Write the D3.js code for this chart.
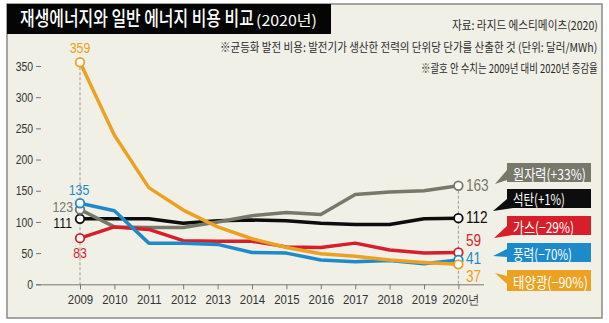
<!DOCTYPE html>
<html><head><meta charset="utf-8">
<script src="https://cdn.jsdelivr.net/npm/d3@7"></script>
<style>
body{margin:0;background:#fff;}
svg{display:block;}
.num{font-family:"Liberation Sans",Arial,sans-serif;}
.kr{font-family:"Noto Sans CJK KR","Noto Sans",sans-serif;}
</style></head>
<body>
<svg id="chart" width="609" height="323"></svg>
<script>
const years = [2009,2010,2011,2012,2013,2014,2015,2016,2017,2018,2019,2020];
const yTicks = [0,50,100,150,200,250,300,350];
const nuclear = [120, 92, 91, 91, 100, 110, 115, 112, 144, 148, 150, 158];
const coal    = [105, 105, 105, 98, 102, 103, 102, 98, 96, 96, 105, 106];
const gas     = [74, 92, 88, 70, 69, 69, 60, 59, 66, 55, 50, 51];
const wind    = [130, 118, 66, 66, 64, 51, 50, 39, 36, 38, 33, 39];
const solar   = [356, 239, 155, 119, 92, 73, 59, 49, 45, 39, 35, 32];
const seriesNames = ["원자력","석탄","가스","풍력","태양광"];
const seriesChanges = ["(+33%)","(+1%)","(−29%)","(−70%)","(−90%)"];
const startLabels = ["123","111","83","135","359"];
const endLabels = ["163","112","59","41","37"];
const colors = ["#77776a","#0d0d0d","#d61f2b","#1d8bcb","#eba121"];

const svg = d3.select("#chart");
const bg = "#f1f0e6";

// horizontally condense a text: either to a target width or by a factor
function squeeze(sel, target, factor){
  sel.each(function(){
    const t = d3.select(this);
    const len = this.getComputedTextLength();
    const s = factor != null ? factor : target/len;
    const x0 = +(t.attr("x")||0);
    t.attr("x",0).attr("transform",`translate(${x0},0) scale(${s},1)`);
  });
}

// frame
svg.append("rect").attr("x",7).attr("y",4).attr("width",595).attr("height",314)
  .attr("fill",bg).attr("stroke","#8a8a84").attr("stroke-width",1.5);
svg.append("rect").attr("x",7).attr("y",4).attr("width",324).attr("height",30).attr("fill","#050505");
svg.append("text").attr("class","kr").attr("x",20).attr("y",26).attr("fill","#fff")
  .attr("font-size",20).attr("font-weight",500)
  .text("재생에너지와 일반 에너지 비용 비교").call(squeeze,234);
svg.append("text").attr("class","kr").attr("x",256).attr("y",26).attr("fill","#fff")
  .attr("font-size",15).text("(2020년)").call(squeeze,61);
const notes = [
  {t:"자료: 라지드 에스티메이츠(2020)", y:25, w:146},
  {t:"※균등화 발전 비용: 발전기가 생산한 전력의 단위당 단가를 산출한 것 (단위: 달러/MWh)", y:47, w:378},
  {t:"※괄호 안 수치는 2009년 대비 2020년 증감율", y:67, w:177}
];
notes.forEach(n=>{
  svg.append("text").attr("class","kr").attr("x",598-n.w).attr("y",n.y).attr("dominant-baseline","central")
    .attr("font-size",12).attr("fill","#2a2a2a").text(n.t).call(squeeze,n.w);
});

const x = d3.scaleLinear().domain([2009,2020]).range([80,458.4]);
const y = d3.scaleLinear().domain([0,350]).range([284.3,66]);

// y axis ticks
const yAx = svg.append("g").attr("transform","translate(41,0)")
  .call(d3.axisLeft(y).tickValues(yTicks).tickSize(5).tickPadding(3));
yAx.select(".domain").remove();
yAx.selectAll("line").attr("stroke","#777");
yAx.selectAll("text").attr("class","num").attr("font-size",13).attr("fill","#333").call(squeeze,null,0.8);

// x axis
const xAx = svg.append("g").attr("transform","translate(0,284.3)")
  .call(d3.axisBottom(x).tickValues(years).tickSize(5).tickPadding(5)
    .tickFormat(d=> d===2020 ? "2020년" : String(d)));
xAx.select(".domain").attr("d","M36,0.5H484").attr("stroke","#777");
xAx.selectAll("line").attr("stroke","#777");
xAx.selectAll("text").attr("class","num").attr("font-size",13).attr("fill","#333").call(squeeze,null,0.88);
xAx.selectAll(".tick").filter(d=>d===2020).select("text")
  .attr("transform","translate(2,0) scale(0.88,1)");

// dashed guides
svg.append("line").attr("x1",x(2009)).attr("x2",x(2009)).attr("y1",y(solar[0])).attr("y2",y(0))
  .attr("stroke","#999").attr("stroke-dasharray","3,2").attr("stroke-width",1);
svg.append("line").attr("x1",x(2020)).attr("x2",x(2020)).attr("y1",y(nuclear[11])).attr("y2",y(0))
  .attr("stroke","#999").attr("stroke-dasharray","3,2").attr("stroke-width",1);

const data = [nuclear, coal, gas, wind, solar];
const line = d3.line().x((d,i)=>x(years[i])).y(d=>y(d));
const order = [1,0,2,3,4];
order.forEach(k=>{
  svg.append("path").datum(data[k]).attr("d",line).attr("fill","none")
    .attr("stroke",colors[k]).attr("stroke-width",3.5).attr("stroke-linejoin","round");
});
order.forEach(k=>{
  [0,11].forEach(i=>{
    svg.append("circle").attr("cx",x(years[i])).attr("cy",y(data[k][i])).attr("r",4.3)
      .attr("fill","#fff").attr("stroke",colors[k]).attr("stroke-width",1.8);
  });
});

// 2009 labels
const startPos = [
  {x:73, y:207, a:"end"},
  {x:72, y:223, a:"end"},
  {x:80, y:253, a:"middle"},
  {x:79, y:190, a:"middle"},
  {x:80, y:48, a:"middle"}
];
startPos.forEach((p,k)=>{
  svg.append("text").attr("class","num").attr("x",p.x).attr("y",p.y).attr("text-anchor",p.a)
    .attr("dominant-baseline","central").attr("font-size",14.5).attr("fill",colors[k])
    .text(startLabels[k]).call(squeeze,null,0.85);
});
// 2020 labels
const endY = [186, 218, 241, 258.5, 276.5];
endY.forEach((yy,k)=>{
  svg.append("text").attr("class","num").attr("x",466).attr("y",yy)
    .attr("dominant-baseline","central").attr("font-size",16).attr("fill",colors[k])
    .text(endLabels[k]).call(squeeze,null,0.85);
});

// label boxes
const boxes = [
  {y:163,h:19, w:73, tail:[[507,170],[495,184],[507,180]]},
  {y:189,h:19, w:52, tail:[[507,199],[493,211],[513,208]]},
  {y:216,h:19, w:61, tail:[[507,226],[494,238],[513,235]]},
  {y:243,h:19, w:59, tail:[[507,249],[493,256],[507,257]]},
  {y:270,h:21, w:75, tail:[[507,276],[495,273],[507,284]]}
];
boxes.forEach((b,k)=>{
  svg.append("polygon").attr("points",b.tail.map(p=>p.join(",")).join(" ")).attr("fill",colors[k]);
  svg.append("rect").attr("x",507).attr("y",b.y).attr("width",84).attr("height",b.h).attr("fill",colors[k]);
  svg.append("text").attr("class","kr").attr("x",513).attr("y",b.y+b.h/2+0.5).attr("dominant-baseline","central")
    .attr("font-size",15).attr("fill","#fff")
    .text(seriesNames[k]+seriesChanges[k]).call(squeeze,b.w);
});
</script>
</body></html>
